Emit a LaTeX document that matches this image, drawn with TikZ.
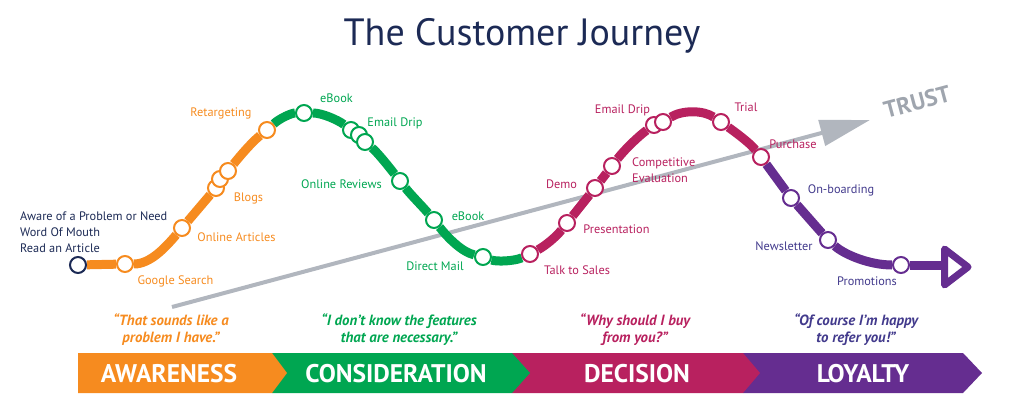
\documentclass[tikz,border=0pt]{standalone}
\usepackage{fontspec}
\setmainfont{PT Sans}
\usetikzlibrary{arrows.meta,backgrounds}

\definecolor{navyink}{HTML}{1C2A55}
\definecolor{trustgrey}{HTML}{B1B6BE}
\definecolor{trustword}{HTML}{9FA5AE}
\definecolor{awareorange}{HTML}{F68B1F}
\definecolor{considergreen}{HTML}{00A651}
\definecolor{decidepink}{HTML}{B8215F}
\definecolor{loyalpurple}{HTML}{652D90}
\definecolor{loyalink}{HTML}{423A8C}

\tikzset{
  halt/.style={circle,draw=#1,fill=white,line width=2pt,minimum size=16pt,inner sep=0pt},
  track/.style={draw=#1,line width=9pt},
  lbl/.style={text=#1,font=\fontsize{12.3}{16}\selectfont,inner sep=0pt,align=left,yshift=-1pt},
  saying/.style={text=#1,font=\fontsize{14.8}{17}\bfseries\itshape\selectfont,inner sep=0pt,align=center},
  stage/.style={text=white,font=\fontsize{25.5}{28}\bfseries\selectfont,inner sep=0pt},
}

\begin{document}
\begin{tikzpicture}[x=1pt,y=-1pt]
    \useasboundingbox (0,0) rectangle (1020,420);

    \node[text=navyink,font=\fontsize{38}{40}\selectfont,inner sep=0pt] (title) at (522,36) {The Customer Journey};

    % stops along the line
    \node[halt=navyink] (start) at (78,265) {};
    \foreach \name/\pos in {google/{125,264},articles/{182,228},blogsa/{216,188},blogsb/{220,179},blogsc/{228,171},retarget/{267,130}}
      \node[halt=awareorange] (\name) at (\pos) {};
    \foreach \name/\pos in {ebooka/{304,113},dripa/{351,130},dripb/{359,135},dripc/{365,142},reviews/{400,181},ebookb/{434,220},direct/{483,257}}
      \node[halt=considergreen] (\name) at (\pos) {};
    \foreach \name/\pos in {sales/{530,254},present/{567,223},demo/{595,188},compete/{612,166},dripd/{654,125},dripe/{663,122},trial/{721,122},purchase/{761,157}}
      \node[halt=decidepink] (\name) at (\pos) {};
    \foreach \name/\pos in {onboard/{791,198},newsletter/{828,240},promo/{901,265}}
      \node[halt=loyalpurple] (\name) at (\pos) {};
    \coordinate (tipbase) at (944.5,265);

    % the line itself goes under the stops
    \begin{scope}[on background layer]
      \coordinate (trustfrom) at (172,307);
      \coordinate (trustto) at (870,120);
      \draw[trustgrey,line width=4pt,-{Triangle[length=50pt,width=26pt]}] (trustfrom) -- (trustto);

      \draw[track=awareorange] (start) -- (google);
      \draw[track=awareorange] (google) .. controls (150,264) and (165,248) .. (articles);
      \draw[track=awareorange] (articles) -- (blogsa);
      \draw[track=awareorange] (blogsa) -- (blogsc);
      \draw[track=awareorange] (blogsc) .. controls (240,156) and (252,142) .. (retarget);

      \draw[track=considergreen] (retarget) .. controls (280,118) and (292,113) .. (ebooka);
      \draw[track=considergreen] (ebooka) .. controls (322,113) and (338,120) .. (dripa);
      \draw[track=considergreen] (dripa) -- (dripc);
      \draw[track=considergreen] (dripc) .. controls (378,153) and (389,167) .. (reviews);
      \draw[track=considergreen] (reviews) .. controls (411,195) and (422,206) .. (ebookb);
      \draw[track=considergreen] (ebookb) .. controls (448,238) and (462,252) .. (direct);
      \draw[track=considergreen] (direct) .. controls (497,262) and (515,261) .. (sales);

      \draw[track=decidepink] (sales) .. controls (545,246) and (556,237) .. (present);
      \draw[track=decidepink] (present) -- (demo);
      \draw[track=decidepink] (demo) -- (compete);
      \draw[track=decidepink] (compete) .. controls (625,149) and (640,135) .. (dripd);
      \draw[track=decidepink] (dripe) .. controls (682,110) and (703,110) .. (trial);
      \draw[track=decidepink] (trial) .. controls (735,132) and (750,143) .. (purchase);

      \draw[track=loyalpurple] (purchase) -- (onboard);
      \draw[track=loyalpurple] (onboard) -- (newsletter);
      \draw[track=loyalpurple] (newsletter) .. controls (845,255) and (870,265) .. (promo);
      \draw[track=loyalpurple] (promo) -- (tipbase);
    \end{scope}
    \draw[loyalpurple,line width=7pt,line join=round,fill=white] (944.5,249) -- (968,267) -- (944.5,285) -- cycle;

    \node[text=trustword,font=\fontsize{23.5}{28}\bfseries\addfontfeature{Kerning=Off}\selectfont,inner sep=0pt,rotate=15] (trust) at (917,102) {TRUST};

    % labels
    \node[lbl=navyink,anchor=west] (aware) at (20,231) {Aware of a Problem or Need\\Word Of Mouth\\Read an Article};
    \node[lbl=awareorange] (lgoogle) at (175.5,280) {Google Search};
    \node[lbl=awareorange] (larticles) at (236.5,236) {Online Articles};
    \node[lbl=awareorange] (lblogs) at (248.5,197) {Blogs};
    \node[lbl=awareorange] (lretarget) at (221,112) {Retargeting};

    \node[lbl=considergreen] (lebooka) at (336.5,97) {eBook};
    \node[lbl=considergreen] (ldrip) at (395,122) {Email Drip};
    \node[lbl=considergreen] (lreviews) at (341.5,183) {Online Reviews};
    \node[lbl=considergreen] (lebookb) at (468,215) {eBook};
    \node[lbl=considergreen] (ldirect) at (435,265) {Direct Mail};

    \node[lbl=decidepink] (lsales) at (577,269) {Talk to Sales};
    \node[lbl=decidepink] (lpresent) at (616.5,228) {Presentation};
    \node[lbl=decidepink] (ldemo) at (561.5,183) {Demo};
    \node[lbl=decidepink,anchor=west] (lcompete) at (632,169.5) {Competitive\\Evaluation};
    \node[lbl=decidepink] (ldripb) at (622.5,109) {Email Drip};
    \node[lbl=decidepink] (ltrial) at (746,106) {Trial};
    \node[lbl=decidepink] (lpurchase) at (793,143) {Purchase};

    \node[lbl=loyalink] (lonboard) at (841,189) {On-boarding};
    \node[lbl=loyalink] (lnews) at (784,245) {Newsletter};
    \node[lbl=loyalink] (lpromo) at (867,280) {Promotions};

    % what the customer says
    \node[saying=awareorange] (sayaware) at (171,330) {``That sounds like a\\problem I have.''};
    \node[saying=considergreen] (sayconsider) at (399,330) {``I don't know the features\\that are necessary.''};
    \node[saying=decidepink] (saydecide) at (635,330) {``Why should I buy\\from you?''};
    \node[saying=loyalink] (sayloyal) at (856,330) {``Of course I'm happy\\to refer you!''};

    % the bar, last stage first so each tip lies over the next one
    \foreach \from/\to/\tip/\col in {743/963/982/loyalpurple,512/743/760/decidepink,272/512/530/considergreen,78/272/287/awareorange}
      \fill[\col] (\from,353) -- (\to,353) -- (\tip,373) -- (\to,393) -- (\from,393) -- cycle;

    \node[stage] (awareness) at (169,374) {AWARENESS};
    \node[stage] (consideration) at (396,374) {CONSIDERATION};
    \node[stage] (decision) at (637,374) {DECISION};
    \node[stage] (loyalty) at (863,374) {LOYALTY};

\end{tikzpicture}
\end{document}
